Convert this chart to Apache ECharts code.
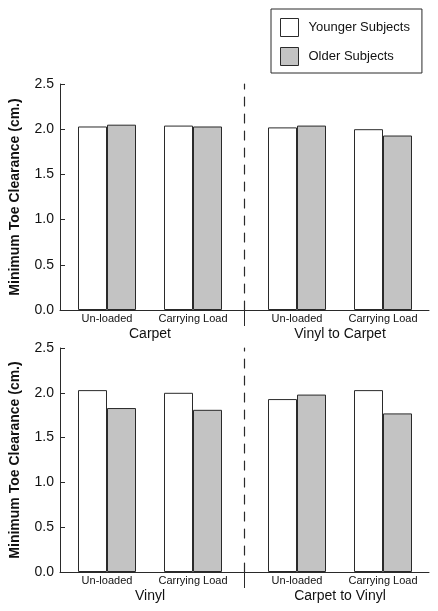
<!DOCTYPE html>
<html>
<head>
<meta charset="utf-8">
<script src="https://cdn.jsdelivr.net/npm/echarts@6/dist/echarts.min.js"></script>
<style>html,body{margin:0;padding:0;background:#fff}#c{width:438px;height:611px}</style>
</head>
<body>
<div id="c"></div>
<script>
const conditions = ['Un-loaded', 'Carrying Load'];
const sections = ['Carpet', 'Vinyl to Carpet', 'Vinyl', 'Carpet to Vinyl'];
const seriesNames = ['Younger Subjects', 'Older Subjects'];
const yTicks = [0, 0.5, 1.0, 1.5, 2.0, 2.5];
const yTitle = 'Minimum Toe Clearance (cm.)';
const carpetYounger = [2.03, 2.04];
const carpetOlder = [2.05, 2.03];
const vinylToCarpetYounger = [2.02, 2.00];
const vinylToCarpetOlder = [2.04, 1.93];
const vinylYounger = [2.03, 2.00];
const vinylOlder = [1.83, 1.81];
const carpetToVinylYounger = [1.93, 2.03];
const carpetToVinylOlder = [1.98, 1.77];

const FONT = '"Liberation Sans", Arial, Helvetica, sans-serif';
const INK = '#2a2a2a';
const GRAY = '#c3c3c3';

const panels = [
  {top: 84, bottom: 301, left: [carpetYounger, carpetOlder], right: [vinylToCarpetYounger, vinylToCarpetOlder], names: [sections[0], sections[1]]},
  {top: 348, bottom: 39, left: [vinylYounger, vinylOlder], right: [carpetToVinylYounger, carpetToVinylOlder], names: [sections[2], sections[3]]}
];

const grid = [], xAxis = [], yAxis = [], series = [];
panels.forEach(function (p) {
  const gFull = grid.length;
  grid.push({left: 60, right: 9, top: p.top, bottom: p.bottom});
  grid.push({left: 64, right: 202, top: p.top, bottom: p.bottom});
  grid.push({left: 254, right: 12, top: p.top, bottom: p.bottom});
  xAxis.push({
    gridIndex: gFull, type: 'value', min: 0, max: 2,
    axisLine: {show: true, lineStyle: {color: INK, width: 1}},
    axisTick: {show: true, customValues: [1], length: 16, inside: false, lineStyle: {color: INK, width: 1}},
    axisLabel: {show: false}, splitLine: {show: false}
  });
  yAxis.push({
    gridIndex: gFull, type: 'value', min: yTicks[0], max: yTicks[yTicks.length - 1], interval: 0.5,
    axisLine: {show: true, lineStyle: {color: INK, width: 1}},
    axisTick: {show: true, inside: true, length: 5, lineStyle: {color: INK, width: 1}},
    axisLabel: {show: true, color: '#111', fontSize: 14, fontFamily: FONT, margin: 6,
      formatter: function (v) { return v.toFixed(1); }},
    splitLine: {show: false},
    name: yTitle, nameLocation: 'middle', nameGap: 38,
    nameTextStyle: {fontSize: 14, fontWeight: 'bold', color: '#111', fontFamily: FONT}
  });
  [1, 2].forEach(function (k) {
    const gi = gFull + k;
    xAxis.push({
      gridIndex: gi, type: 'category', data: conditions,
      axisLine: {show: false}, axisTick: {show: false},
      axisLabel: {show: true, fontSize: 11, color: '#111', fontFamily: FONT, margin: 3, interval: 0},
      name: p.names[k - 1], nameLocation: 'middle', nameGap: 17,
      nameTextStyle: {fontSize: 14, color: '#111', fontFamily: FONT}
    });
    yAxis.push({
      gridIndex: gi, type: 'value', min: yTicks[0], max: yTicks[yTicks.length - 1], interval: 0.5,
      show: k === 2, position: 'left', offset: 10,
      axisLine: {show: k === 2, lineStyle: {color: INK, width: 1.2, type: [9, 8]}},
      axisTick: {show: false}, axisLabel: {show: false}, splitLine: {show: false}
    });
    const vals = k === 1 ? p.left : p.right;
    vals.forEach(function (arr, si) {
      series.push({
        type: 'bar', name: seriesNames[si], xAxisIndex: xAxis.length - 1, yAxisIndex: yAxis.length - 1,
        data: arr, barWidth: 29, barGap: '0%',
        itemStyle: {color: si === 0 ? '#ffffff' : GRAY, borderColor: INK, borderWidth: 1},
        emphasis: {disabled: true}, silent: true, animation: false
      });
    });
  });
});

const chart = echarts.init(document.getElementById('c'), null, {renderer: 'canvas'});
chart.setOption({
  animation: false,
  backgroundColor: '#fff',
  legend: {
    data: seriesNames, orient: 'vertical', left: 271, top: 9,
    itemWidth: 18, itemHeight: 18, itemGap: 10,
    padding: [9, 12, 7, 9],
    borderColor: INK, borderWidth: 1,
    icon: 'rect',
    itemStyle: {borderWidth: 1, borderColor: INK},
    textStyle: {fontSize: 13, color: '#111', fontFamily: FONT, padding: [0, 0, 0, 5]},
    selectedMode: false
  },
  grid: grid, xAxis: xAxis, yAxis: yAxis, series: series
});
</script>
</body>
</html>
